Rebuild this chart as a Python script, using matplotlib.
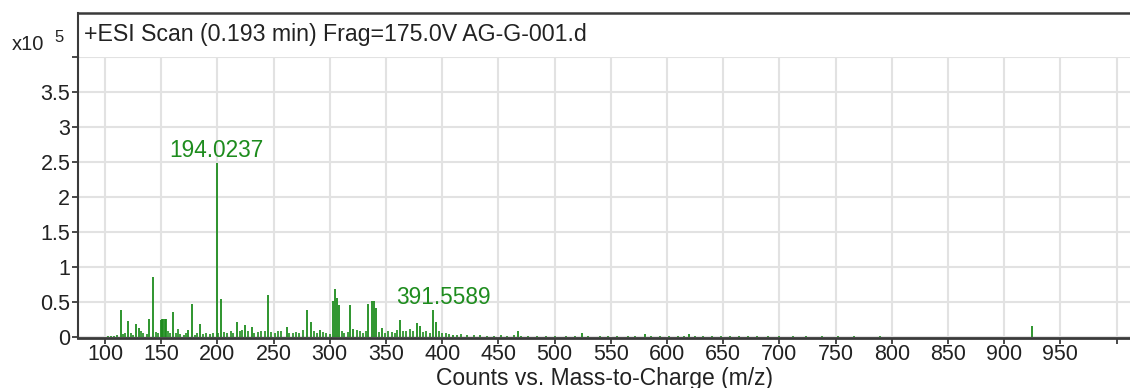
import matplotlib
matplotlib.use("Agg")
import matplotlib.pyplot as plt
from matplotlib.lines import Line2D

plt.rcParams['font.family'] = ['Liberation Sans', 'DejaVu Sans']

# ---- data (m/z, intensity in units of 1e5 counts) ----
major_mz = [114.2, 120.7, 127.6, 130.3, 139.4, 142.4, 149.6, 150.8, 151.6, 153.0, 154.3,
            160.2, 174.1, 177.1, 184.5, 199.4, 203.2, 217.2, 224.6, 230.5, 245.3,
            261.7, 280.0, 283.0, 291.3, 302.6, 304.9, 306.2, 308.5, 318.0, 321.0,
            334.3, 337.8, 339.6, 341.1, 346.2, 362.5, 377.3, 380.3, 391.6, 394.5,
            409.9, 467.7, 524.1, 580.5, 619.6, 924.4]
major_int = [0.38, 0.23, 0.19, 0.13, 0.26, 0.85, 0.24, 0.26, 0.25, 0.25, 0.25,
             0.36, 0.10, 0.47, 0.19, 2.48, 0.54, 0.21, 0.17, 0.14, 0.60,
             0.14, 0.39, 0.21, 0.10, 0.51, 0.68, 0.55, 0.45, 0.45, 0.12,
             0.47, 0.51, 0.51, 0.42, 0.13, 0.24, 0.20, 0.15, 0.38, 0.21,
             0.03, 0.09, 0.06, 0.04, 0.04, 0.15]

minor_mz = [103, 105, 108, 111, 116, 118, 123, 125, 132, 134, 137, 145, 147, 156, 158,
            163, 165, 167, 170, 172, 180, 182, 187, 190, 193, 196, 201, 206, 209, 212,
            214, 220, 222, 227, 233, 236, 239, 242, 248, 251, 254, 257, 264, 267, 270,
            273, 276, 286, 289, 294, 297, 300, 311, 313, 316, 324, 327, 330, 332, 344,
            349, 352, 355, 358, 360, 365, 368, 371, 374, 383, 386, 389, 397, 400, 403,
            406, 413, 417, 422, 428, 434, 440, 446, 452, 458, 464, 470, 476, 484, 492,
            500, 510, 518, 530, 540, 548, 556, 565, 572, 586, 594, 602, 610, 615, 625,
            632, 640, 648, 656, 664, 672, 680, 690, 700, 712, 724, 738, 752, 766, 790]
minor_int = [0.01, 0.02, 0.02, 0.03, 0.04, 0.06, 0.05, 0.03, 0.08, 0.05, 0.04, 0.07, 0.05, 0.08, 0.05,
             0.06, 0.12, 0.04, 0.03, 0.05, 0.03, 0.05, 0.04, 0.06, 0.04, 0.05, 0.06, 0.07, 0.05, 0.08,
             0.06, 0.09, 0.10, 0.08, 0.06, 0.07, 0.08, 0.09, 0.07, 0.05, 0.09, 0.08, 0.06, 0.05, 0.07,
             0.05, 0.10, 0.08, 0.06, 0.07, 0.05, 0.04, 0.08, 0.06, 0.07, 0.10, 0.09, 0.06, 0.08, 0.07,
             0.06, 0.09, 0.07, 0.06, 0.10, 0.08, 0.09, 0.11, 0.08, 0.07, 0.09, 0.06, 0.08, 0.05, 0.05,
             0.04, 0.03, 0.04, 0.03, 0.03, 0.03, 0.02, 0.02, 0.03, 0.02, 0.03, 0.02, 0.02, 0.02, 0.02,
             0.02, 0.02, 0.02, 0.015, 0.02, 0.015, 0.02, 0.015, 0.02, 0.015, 0.02, 0.015, 0.02, 0.015, 0.015,
             0.02, 0.015, 0.01, 0.015, 0.01, 0.015, 0.01, 0.01, 0.015, 0.01, 0.01, 0.01, 0.01, 0.01, 0.01]

annot_text = ["194.0237", "391.5589"]
annot_xy = [(199.4, 2.48), (391.6, 0.38)]

xticks = list(range(100, 1001, 50))
xtick_labels = [str(v) if v < 1000 else "" for v in xticks]
yticks = [0, 0.5, 1, 1.5, 2, 2.5, 3, 3.5, 4]
ytick_labels = ["0", "0.5", "1", "1.5", "2", "2.5", "3", "3.5", ""]

title_text = "+ESI Scan (0.193 min) Frag=175.0V AG-G-001.d"
xlabel_text = "Counts vs. Mass-to-Charge (m/z)"

green = "#1e8c1e"
frame = "#3a3a3a"
txt = "#222222"

W, H = 1130, 388
fig = plt.figure(figsize=(W / 100, H / 100), dpi=100)
left, right, bottom_px, top_px = 78, 1130, 338, 57
ax = fig.add_axes([left / W, 1 - bottom_px / H, (right - left) / W, (bottom_px - top_px) / H])

ax.set_xlim(76, 1012)
ax.set_ylim(-0.015, 4.0)

ax.vlines(minor_mz, 0, minor_int, color=green, lw=1.2)
ax.vlines(major_mz, 0, major_int, color=green, lw=1.3)

annot_dx = [0, 8]
for t, (x, y), dx in zip(annot_text, annot_xy, annot_dx):
    ax.annotate(t, (x, y), xytext=(dx, 1), textcoords="offset points",
                ha="center", va="bottom", color=green, fontsize=16.3)

ax.set_xticks(xticks)
ax.set_xticklabels(xtick_labels)
ax.set_yticks(yticks)
ax.set_yticklabels(ytick_labels)
ax.tick_params(axis="both", labelsize=15.5, color=frame, length=4.5, width=1.3, labelcolor=txt)
ax.tick_params(axis="x", pad=0)
ax.tick_params(axis="y", pad=1)
ax.grid(True, color="#e2e2e2", lw=1.5)
ax.set_axisbelow(True)

for s in ["top", "right"]:
    ax.spines[s].set_visible(False)
ax.spines["left"].set_color(frame)
ax.spines["left"].set_linewidth(1.5)
ax.spines["bottom"].set_color(frame)
ax.spines["bottom"].set_linewidth(2.0)

# header frame above the plotting area
fx = left / W
fig.add_artist(Line2D([fx, fx], [1 - top_px / H, 1 - 13 / H], color=frame, lw=1.5, transform=fig.transFigure))
fig.add_artist(Line2D([fx, 1.0], [1 - 13 / H, 1 - 13 / H], color=frame, lw=1.8, transform=fig.transFigure))

fig.text(84 / W, 1 - 35 / H, title_text, ha="left", va="center", fontsize=16.7, color=txt)
fig.text(12 / W, 1 - 44 / H, "x10", ha="left", va="center", fontsize=14.5, color=txt)
fig.text(54 / W, 1 - 37 / H, "5", ha="left", va="center", fontsize=12, color=txt)
fig.text((left + right) / 2 / W, 1 - 378 / H, xlabel_text, ha="center", va="center", fontsize=16.5, color=txt)

fig.savefig("out.png", dpi=100)
